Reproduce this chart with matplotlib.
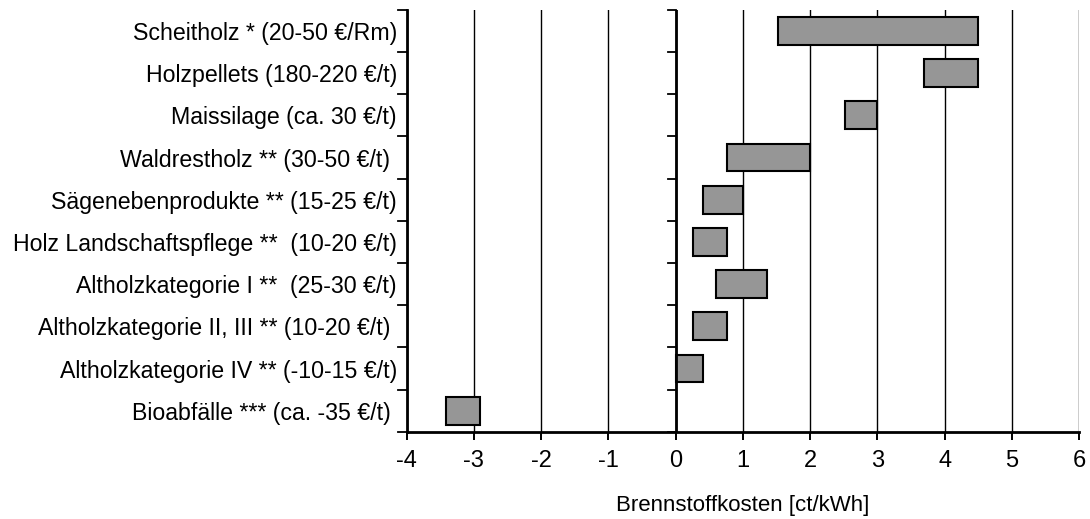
import matplotlib.pyplot as plt
import numpy as np

plt.rcParams['font.family'] = ['Liberation Sans', 'DejaVu Sans']

# Brennstoffkosten je Brennstoff, von oben nach unten
kategorien = [
    "Scheitholz * (20-50 €/Rm)",
    "Holzpellets (180-220 €/t)",
    "Maissilage (ca. 30 €/t)",
    "Waldrestholz ** (30-50 €/t) ",
    "Sägenebenprodukte ** (15-25 €/t)",
    "Holz Landschaftspflege **  (10-20 €/t)",
    "Altholzkategorie I **  (25-30 €/t)",
    "Altholzkategorie II, III ** (10-20 €/t) ",
    "Altholzkategorie IV ** (-10-15 €/t)",
    "Bioabfälle *** (ca. -35 €/t) ",
]
kosten_min = [1.53, 3.70, 2.52, 0.77, 0.41, 0.26, 0.60, 0.26, 0.0, -3.42]
kosten_max = [4.49, 4.49, 3.00, 2.00, 1.00, 0.77, 1.36, 0.77, 0.41, -2.91]

n = len(kategorien)
y = np.arange(n)[::-1]
breite = np.array(kosten_max) - np.array(kosten_min)

fig = plt.figure(figsize=(10.9, 5.19), dpi=100)
ax = fig.add_axes([0.373, 0.168, 0.617, 0.813])

# vertikale Gitterlinien
for xv in range(-4, 7):
    ax.axvline(xv, color='black', lw=1.0, zorder=1)

ax.barh(y, breite, left=kosten_min, height=0.66, color='#969696',
        edgecolor='black', linewidth=1.5, zorder=3)

ax.set_xlim(-4, 6)
ax.set_ylim(-0.5, n - 0.5)
ax.set_xticks(range(-4, 7))
ax.set_xticklabels([str(v) for v in range(-4, 7)], fontsize=17)
ax.tick_params(axis='x', length=6, width=1.4, pad=7)

# Kategorienbeschriftung ohne Tickstriche, Striche zwischen den Kategorien
ax.set_yticks(y)
ax.set_yticklabels(kategorien, fontsize=16.7)
ax.tick_params(axis='y', length=0, pad=7)
grenzen = np.arange(-0.5, n, 1.0)
for g in grenzen:
    ax.plot([-4.12, -4.0], [g, g], color='black', lw=1.3, clip_on=False, zorder=4)
    ax.plot([-0.12, 0.0], [g, g], color='black', lw=1.3, clip_on=False, zorder=4)

ax.axvline(0, color='black', lw=2.0, zorder=4)
ax.spines['top'].set_visible(False)
ax.spines['right'].set_visible(False)
ax.spines['left'].set_linewidth(2.0)
ax.spines['bottom'].set_linewidth(2.0)

ax.set_xlabel("Brennstoffkosten [ct/kWh]", fontsize=16, labelpad=17)

fig.savefig("out.png", dpi=100)
